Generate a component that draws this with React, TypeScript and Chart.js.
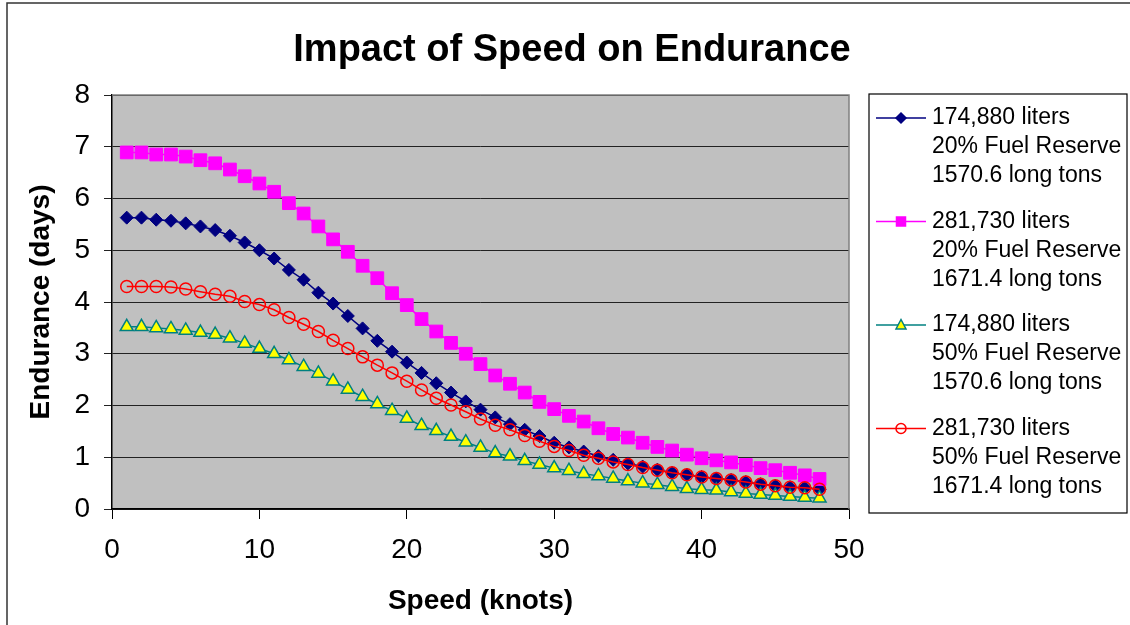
import React, { useEffect, useRef } from 'react';
import { Chart, registerables } from 'chart.js';

Chart.register(...registerables);

const FONT = '"Liberation Sans", Arial, Helvetica, sans-serif';

const chartTitle = 'Impact of Speed on Endurance';
const xAxisTitle = 'Speed (knots)';
const yAxisTitle = 'Endurance (days)';

const speeds = [
  1, 2, 3, 4, 5, 6, 7, 8, 9, 10, 11, 12, 13, 14, 15, 16, 17, 18, 19, 20, 21, 22, 23, 24,
  25, 26, 27, 28, 29, 30, 31, 32, 33, 34, 35, 36, 37, 38, 39, 40, 41, 42, 43, 44, 45, 46, 47, 48,
];

const endurance174k20 = [
  5.63, 5.63, 5.59, 5.57, 5.52, 5.46, 5.39, 5.28, 5.15, 5.0, 4.84, 4.62, 4.43, 4.18, 3.97, 3.73,
  3.49, 3.25, 3.04, 2.83, 2.63, 2.43, 2.25, 2.08, 1.92, 1.77, 1.64, 1.53, 1.41, 1.28, 1.19, 1.11,
  1.02, 0.95, 0.88, 0.82, 0.76, 0.7, 0.66, 0.62, 0.59, 0.56, 0.52, 0.48, 0.45, 0.42, 0.41, 0.38,
];

const endurance281k20 = [
  6.89, 6.89, 6.85, 6.85, 6.81, 6.74, 6.68, 6.56, 6.43, 6.29, 6.13, 5.91, 5.71, 5.46, 5.21, 4.97,
  4.7, 4.46, 4.17, 3.94, 3.67, 3.43, 3.21, 3.0, 2.8, 2.58, 2.42, 2.25, 2.07, 1.93, 1.8, 1.69,
  1.56, 1.45, 1.38, 1.28, 1.2, 1.13, 1.05, 0.98, 0.94, 0.9, 0.85, 0.79, 0.75, 0.7, 0.65, 0.58,
];

const endurance174k50 = [
  3.52, 3.52, 3.5, 3.48, 3.45, 3.41, 3.37, 3.3, 3.2, 3.1, 3.0, 2.88, 2.75, 2.62, 2.47, 2.31,
  2.17, 2.03, 1.9, 1.75, 1.61, 1.51, 1.4, 1.29, 1.19, 1.08, 1.02, 0.93, 0.86, 0.79, 0.74, 0.68,
  0.64, 0.59, 0.54, 0.5, 0.47, 0.43, 0.39, 0.37, 0.36, 0.33, 0.3, 0.28, 0.26, 0.24, 0.22, 0.21,
];

const endurance281k50 = [
  4.3, 4.3, 4.3, 4.29, 4.25, 4.2, 4.15, 4.11, 4.01, 3.95, 3.85, 3.7, 3.57, 3.43, 3.26, 3.1,
  2.94, 2.78, 2.63, 2.47, 2.3, 2.14, 2.01, 1.88, 1.74, 1.62, 1.53, 1.42, 1.31, 1.21, 1.13, 1.04,
  0.98, 0.91, 0.86, 0.8, 0.75, 0.7, 0.66, 0.62, 0.59, 0.56, 0.52, 0.48, 0.45, 0.42, 0.41, 0.38,
];

const legend174k20 = ['174,880 liters', '20% Fuel Reserve', '1570.6 long tons'];
const legend281k20 = ['281,730 liters', '20% Fuel Reserve', '1671.4 long tons'];
const legend174k50 = ['174,880 liters', '50% Fuel Reserve', '1570.6 long tons'];
const legend281k50 = ['281,730 liters', '50% Fuel Reserve', '1671.4 long tons'];

const toPoints = (ys: number[]) => speeds.map((x, i) => ({ x, y: ys[i] }));

type SeriesStyle = {
  lines: string[];
  line: string;
  fill: string;
  stroke: string;
  shape: 'diamond' | 'square' | 'triangle' | 'circle';
};

const legendItems: SeriesStyle[] = [
  { lines: legend174k20, line: '#000080', fill: '#000080', stroke: '#000080', shape: 'diamond' },
  { lines: legend281k20, line: '#FF00FF', fill: '#FF00FF', stroke: '#FF00FF', shape: 'square' },
  { lines: legend174k50, line: '#008080', fill: '#FFFF00', stroke: '#008080', shape: 'triangle' },
  { lines: legend281k50, line: '#FF0000', fill: 'rgba(0,0,0,0)', stroke: '#FF0000', shape: 'circle' },
];

function drawMarker(ctx: CanvasRenderingContext2D, it: SeriesStyle, x: number, y: number) {
  ctx.save();
  ctx.beginPath();
  if (it.shape === 'diamond') {
    const r = 5;
    ctx.moveTo(x, y - r);
    ctx.lineTo(x + r, y);
    ctx.lineTo(x, y + r);
    ctx.lineTo(x - r, y);
    ctx.closePath();
  } else if (it.shape === 'square') {
    ctx.rect(x - 4.5, y - 4.5, 9, 9);
  } else if (it.shape === 'triangle') {
    ctx.moveTo(x, y - 5.5);
    ctx.lineTo(x + 5, y + 4);
    ctx.lineTo(x - 5, y + 4);
    ctx.closePath();
  } else {
    ctx.arc(x, y, 5, 0, Math.PI * 2);
  }
  ctx.fillStyle = it.fill;
  ctx.fill();
  ctx.lineWidth = 1.5;
  ctx.strokeStyle = it.stroke;
  ctx.stroke();
  ctx.restore();
}

const decorPlugin = {
  id: 'decor',
  beforeDraw(chart: any) {
    const { ctx, chartArea } = chart;
    const W = chart.width;
    const H = chart.height;
    ctx.save();
    ctx.fillStyle = '#FFFFFF';
    ctx.fillRect(0, 0, W, H);
    ctx.strokeStyle = '#333333';
    ctx.lineWidth = 1.5;
    ctx.beginPath();
    ctx.moveTo(7, H + 5);
    ctx.lineTo(7, 3);
    ctx.lineTo(W + 5, 3);
    ctx.stroke();
    ctx.fillStyle = '#C0C0C0';
    ctx.fillRect(chartArea.left, chartArea.top, chartArea.right - chartArea.left, chartArea.bottom - chartArea.top);
    ctx.restore();
  },
  afterDraw(chart: any) {
    const { ctx, chartArea } = chart;
    ctx.save();
    ctx.strokeStyle = '#808080';
    ctx.lineWidth = 1.5;
    ctx.beginPath();
    ctx.moveTo(chartArea.left, chartArea.top);
    ctx.lineTo(chartArea.right, chartArea.top);
    ctx.lineTo(chartArea.right, chartArea.bottom);
    ctx.stroke();

    ctx.fillStyle = '#000000';
    ctx.textAlign = 'center';
    ctx.textBaseline = 'middle';
    ctx.font = `bold 38px ${FONT}`;
    ctx.fillText(chartTitle, 572, 51);

    ctx.font = `bold 28px ${FONT}`;
    ctx.fillText(xAxisTitle, (chartArea.left + chartArea.right) / 2, 601);
    ctx.save();
    ctx.translate(41, 302);
    ctx.rotate(-Math.PI / 2);
    ctx.fillText(yAxisTitle, 0, 0);
    ctx.restore();

    const lx = 869;
    const ly = 94;
    const lw = 258;
    const lh = 419;
    ctx.fillStyle = '#FFFFFF';
    ctx.fillRect(lx, ly, lw, lh);
    ctx.strokeStyle = '#000000';
    ctx.lineWidth = 1.2;
    ctx.strokeRect(lx, ly, lw, lh);

    ctx.font = `23px ${FONT}`;
    ctx.textAlign = 'left';
    ctx.textBaseline = 'middle';
    legendItems.forEach((it, i) => {
      const y0 = 118 + i * 103.5;
      ctx.strokeStyle = it.line;
      ctx.lineWidth = 1.5;
      ctx.beginPath();
      ctx.moveTo(876, y0);
      ctx.lineTo(926, y0);
      ctx.stroke();
      drawMarker(ctx, it, 901, y0);
      ctx.fillStyle = '#000000';
      it.lines.forEach((t, j) => {
        ctx.fillText(t, 932, y0 + j * 29);
      });
    });
    ctx.restore();
  },
};

export default function App() {
  const canvasRef = useRef<HTMLCanvasElement | null>(null);

  useEffect(() => {
    const canvas = canvasRef.current;
    if (!canvas) return;
    const chart = new Chart(canvas, {
      type: 'line',
      data: {
        datasets: [
          {
            label: legend174k20.join(' '),
            data: toPoints(endurance174k20),
            borderColor: '#000080',
            backgroundColor: '#000080',
            borderWidth: 1.5,
            pointStyle: 'rectRot',
            pointRadius: 6.5,
            pointBackgroundColor: '#000080',
            pointBorderColor: '#000080',
            pointBorderWidth: 1,
            tension: 0,
            order: 4,
          },
          {
            label: legend281k20.join(' '),
            data: toPoints(endurance281k20),
            borderColor: '#FF00FF',
            backgroundColor: '#FF00FF',
            borderWidth: 1.5,
            pointStyle: 'rect',
            pointRadius: 9,
            pointBackgroundColor: '#FF00FF',
            pointBorderColor: '#FF00FF',
            pointBorderWidth: 1,
            tension: 0,
            order: 3,
          },
          {
            label: legend174k50.join(' '),
            data: toPoints(endurance174k50),
            borderColor: '#008080',
            backgroundColor: '#FFFF00',
            borderWidth: 1.5,
            pointStyle: 'triangle',
            pointRadius: 7.5,
            pointBackgroundColor: '#FFFF00',
            pointBorderColor: '#008080',
            pointBorderWidth: 1.5,
            tension: 0,
            order: 2,
          },
          {
            label: legend281k50.join(' '),
            data: toPoints(endurance281k50),
            borderColor: '#FF0000',
            backgroundColor: 'rgba(0,0,0,0)',
            borderWidth: 1.5,
            pointStyle: 'circle',
            pointRadius: 6,
            pointBackgroundColor: 'rgba(0,0,0,0)',
            pointBorderColor: '#FF0000',
            pointBorderWidth: 1.5,
            tension: 0,
            order: 1,
          },
        ],
      },
      options: {
        animation: false,
        responsive: true,
        maintainAspectRatio: false,
        devicePixelRatio: 1,
        layout: { padding: { top: 95, right: 281, left: 0, bottom: 0 } },
        plugins: {
          legend: { display: false },
          title: { display: false },
          tooltip: { enabled: false },
        },
        scales: {
          x: {
            type: 'linear',
            min: 0,
            max: 50,
            afterFit: (s: any) => {
              s.height = 116;
            },
            ticks: {
              stepSize: 10,
              color: '#000000',
              font: { family: FONT, size: 28 },
              padding: 14,
              maxRotation: 0,
            },
            grid: {
              drawOnChartArea: false,
              drawTicks: true,
              tickLength: 10,
              color: '#000000',
              lineWidth: 1,
            },
            border: { display: true, color: '#000000', width: 1.5 },
          },
          y: {
            type: 'linear',
            min: 0,
            max: 8,
            afterFit: (s: any) => {
              s.width = 112;
            },
            ticks: {
              stepSize: 1,
              color: '#000000',
              font: { family: FONT, size: 28 },
              padding: 14,
            },
            grid: {
              drawOnChartArea: true,
              drawTicks: true,
              tickLength: 8,
              color: '#222222',
              lineWidth: 1,
            },
            border: { display: true, color: '#000000', width: 1.5 },
          },
        },
      },
      plugins: [decorPlugin],
    });
    return () => chart.destroy();
  }, []);

  return (
    <div style={{ position: 'fixed', left: 0, top: 0, width: 1130, height: 625, background: '#fff' }}>
      <canvas ref={canvasRef} style={{ display: 'block' }} />
    </div>
  );
}
